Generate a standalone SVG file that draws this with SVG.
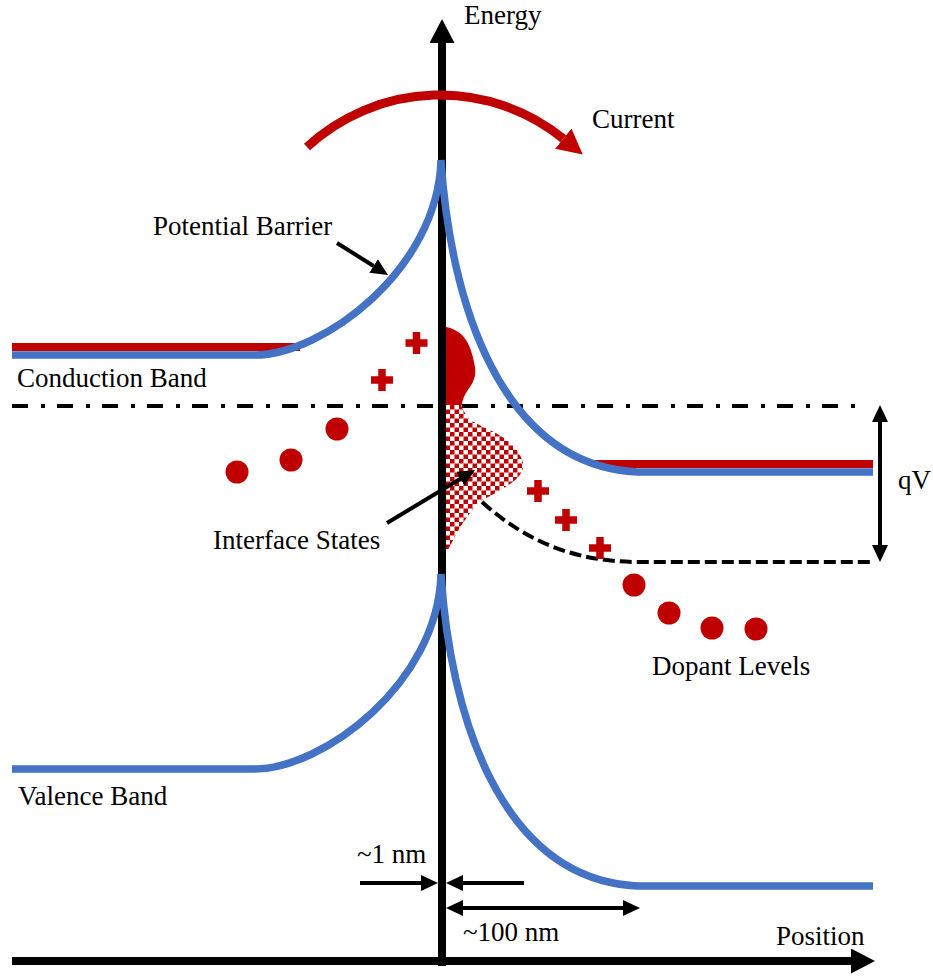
<svg xmlns="http://www.w3.org/2000/svg" width="933" height="977" viewBox="0 0 933 977">
<defs>
<style>
text{font-family:"Liberation Serif","Times New Roman",serif;font-size:27px;fill:#000}
.blue{fill:none;stroke:#4472C4;stroke-width:7.5}
.red{fill:none;stroke:#C00000;stroke-width:8}
.blk{fill:none;stroke:#000;stroke-width:4}
.dot{fill:#C00000}
.plus{fill:none;stroke:#C00000;stroke-width:7.5}
</style>
<marker id="big" markerUnits="userSpaceOnUse" markerWidth="24" markerHeight="25" refX="0" refY="12.5" orient="auto"><path d="M0,0 L24,12.5 L0,25 z" fill="#000"/></marker>
<marker id="ah" markerUnits="userSpaceOnUse" markerWidth="17" markerHeight="16" refX="0" refY="8" orient="auto-start-reverse"><path d="M0,0 L17,8 L0,16 z" fill="#000"/></marker>
<marker id="rah" markerUnits="userSpaceOnUse" markerWidth="25" markerHeight="26" refX="0" refY="13" orient="auto"><path d="M0,0 L25,13 L0,26 z" fill="#C00000"/></marker>
<pattern id="checker" patternUnits="userSpaceOnUse" width="9" height="9"><rect width="9" height="9" fill="#fff"/><rect width="4.5" height="4.5" fill="#C00000"/><rect x="4.5" y="4.5" width="4.5" height="4.5" fill="#C00000"/></pattern>
<g id="plusShape"><path d="M-11,0 H11 M0,-11 V11"/></g>
</defs>
<rect width="933" height="977" fill="#fff"/>

<g id="levels">
<path d="M12,406 L866,406" fill="none" stroke="#000" stroke-width="4" stroke-dasharray="16 13 4 12"/>
<path d="M482,502 C530,545 580,562 640,562 L873,562" fill="none" stroke="#000" stroke-width="4" stroke-dasharray="12 5"/>
</g>

<g id="interface-states">
<path d="M446,327 C452,328 458,331 462,335 C468,341 472,350 475,367 C477,380 470,386 466,393 C463,398 462,402 462,405 L446,405 Z" fill="#C00000"/>
<path d="M446,405 L461,405 C464,412 467,418 472,421 C482,427 494,431 507,440 C515,446 521,455 523,463 C524,470 520,476 514,481 C505,488 494,494 480,501 C472,510 462,523 457,533 C452,542 449,548 447,552 L446,552 Z" fill="url(#checker)"/>
</g>

<g id="axes">
<path d="M442,966 L442,43" fill="none" stroke="#000" stroke-width="8" marker-end="url(#big)"/>
<path d="M12,961 L851,961" fill="none" stroke="#000" stroke-width="8" marker-end="url(#big)"/>
</g>

<g id="conduction-band">
<path class="red" d="M12,347 L300,347"/>
<path class="red" d="M595,464 L873,464"/>
<path id="cb" class="blue" d="M12,355 L255,355 C322,355 438,270 441,160 C450,300 500,465 637,472 L873,472"/>
</g>

<g id="valence-band">
<use href="#cb" transform="translate(0,414)"/>
</g>

<g id="charges">
<use href="#plusShape" class="plus" transform="translate(416.5,343)"/>
<use href="#plusShape" class="plus" transform="translate(382,380)"/>
<use href="#plusShape" class="plus" transform="translate(538,491)"/>
<use href="#plusShape" class="plus" transform="translate(566,520)"/>
<use href="#plusShape" class="plus" transform="translate(600,548)"/>
</g>

<g id="dopants">
<circle class="dot" cx="237" cy="472" r="11.5"/>
<circle class="dot" cx="291" cy="460" r="11.5"/>
<circle class="dot" cx="337" cy="429" r="11.5"/>
<circle class="dot" cx="634" cy="585" r="11.5"/>
<circle class="dot" cx="669" cy="613" r="11.5"/>
<circle class="dot" cx="712" cy="628" r="11.5"/>
<circle class="dot" cx="756" cy="629" r="11.5"/>
</g>

<g id="connectors">
<path d="M307,147 A196,196 0 0 1 563.3,138.7" fill="none" stroke="#C00000" stroke-width="9" marker-end="url(#rah)"/>
<path class="blk" d="M337,243 L373.6,266" marker-end="url(#ah)"/>
<path class="blk" d="M387,523 L460.4,478.8" marker-end="url(#ah)"/>
<path class="blk" d="M360,883 L421,883" marker-end="url(#ah)"/>
<path class="blk" d="M524,883 L463,883" marker-end="url(#ah)"/>
<path class="blk" d="M463,908 L623,908" marker-start="url(#ah)" marker-end="url(#ah)"/>
<path class="blk" d="M880,422 L880,545" marker-start="url(#ah)" marker-end="url(#ah)"/>
</g>

<g id="labels" font-family="'Liberation Serif', 'Times New Roman', serif" font-size="27">
<text x="464" y="24">Energy</text>
<text x="592" y="128">Current</text>
<text x="153" y="235">Potential Barrier</text>
<text x="17" y="387">Conduction Band</text>
<text x="213" y="549">Interface States</text>
<text x="898" y="489">qV</text>
<text x="652" y="675">Dopant Levels</text>
<text x="18" y="805">Valence Band</text>
<text x="357" y="863">~1 nm</text>
<text x="463" y="941">~100 nm</text>
<text x="776" y="945">Position</text>
</g>
</svg>
